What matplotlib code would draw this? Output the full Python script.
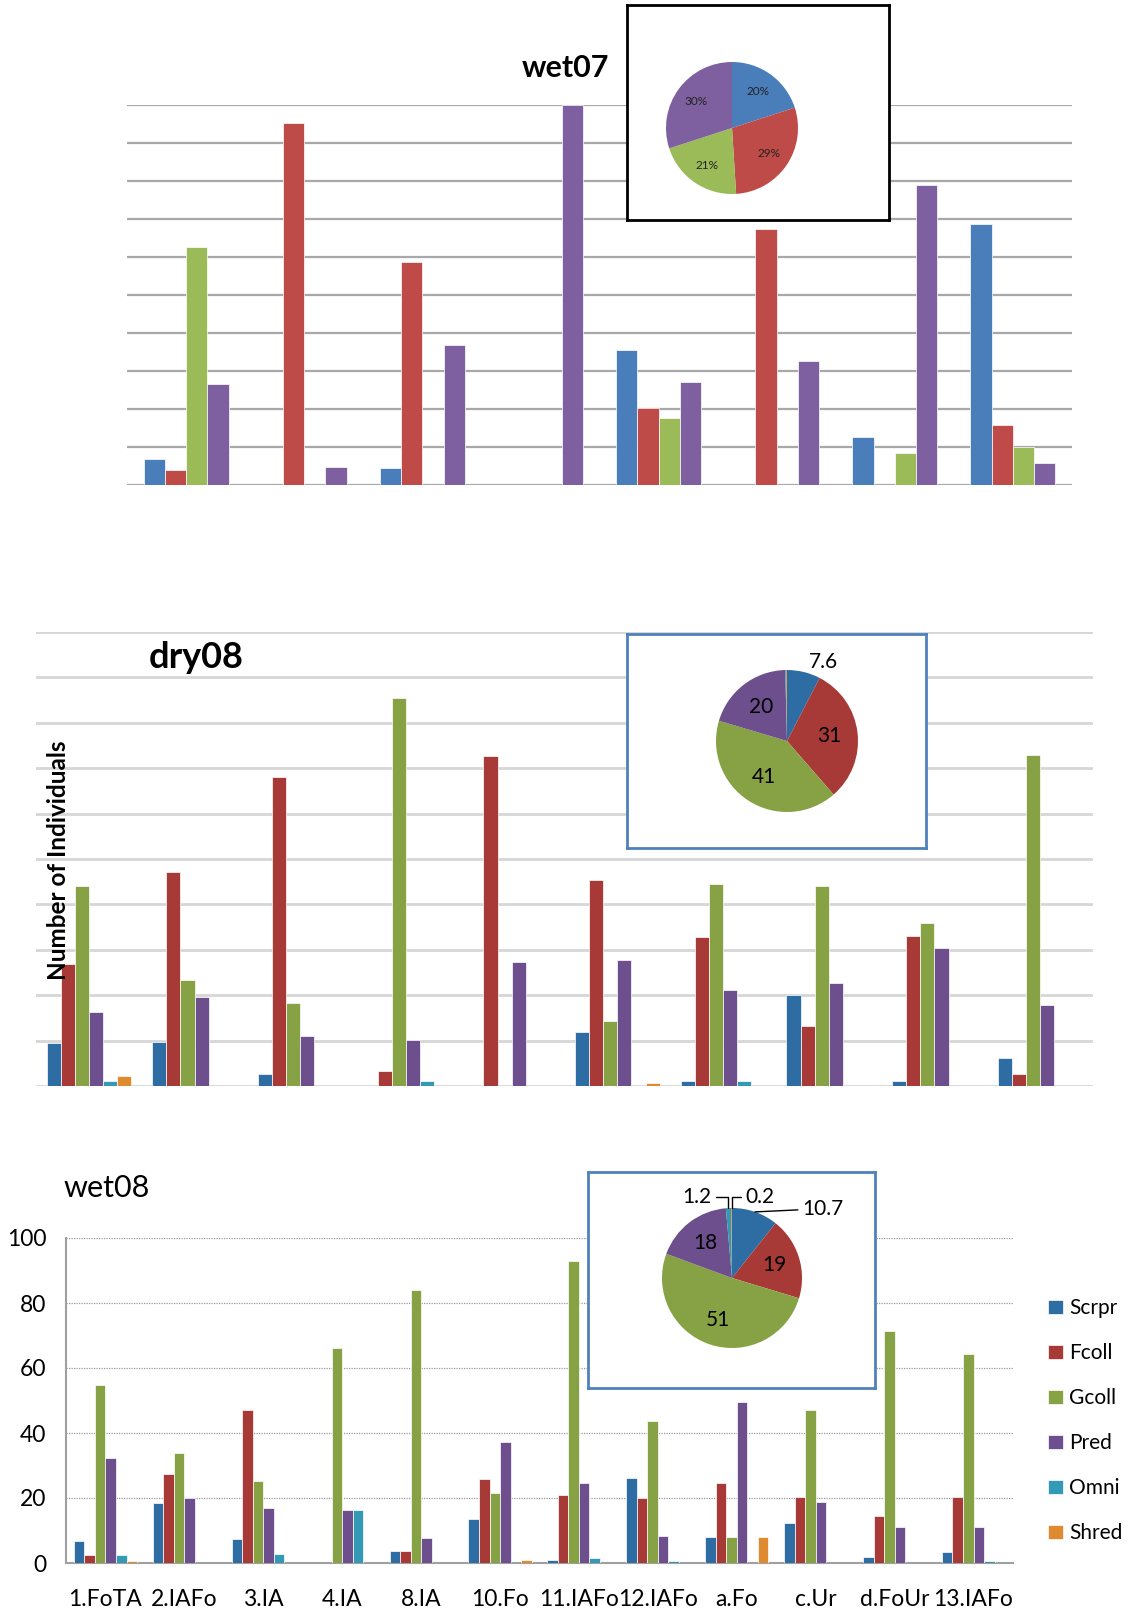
import numpy as np
import matplotlib.pyplot as plt

plt.rcParams["font.family"] = ["Lato", "DejaVu Sans"]

W, H = 1129, 1614

guilds = ["Scrpr", "Fcoll", "Gcoll", "Pred", "Omni", "Shred"]

# wet07 - no y scale printed, values are in gridline units
wet07_scrpr = [0.68, 0, 0.44, 0, 3.54, 0, 1.26, 6.86]
wet07_fcoll = [0.40, 9.53, 5.88, 0, 2.02, 6.73, 0, 1.58]
wet07_gcoll = [6.27, 0, 0, 0, 1.76, 0, 0.84, 1.01]
wet07_pred = [2.65, 0.47, 3.69, 10.0, 2.72, 3.27, 7.90, 0.59]
wet07_pie = [20, 29, 21, 30]

# dry08 - also in gridline units
dry08_scrpr = [0.94, 0.97, 0.26, 0, 0, 1.19, 0.10, 2.01, 0.10, 0.62]
dry08_fcoll = [2.68, 4.72, 6.80, 0.32, 7.26, 4.54, 3.28, 1.33, 3.30, 0.26]
dry08_gcoll = [4.41, 2.34, 1.83, 8.55, 0, 1.44, 4.46, 4.41, 3.59, 7.30]
dry08_pred = [1.63, 1.95, 1.11, 1.02, 2.74, 2.78, 2.12, 2.26, 3.03, 1.79]
dry08_omni = [0.12, 0, 0, 0.12, 0, 0, 0.10, 0, 0, 0]
dry08_shred = [0.23, 0, 0, 0, 0, 0.07, 0, 0, 0, 0]
dry08_pie = [7.6, 31, 41, 20, 0.2, 0.2]

# wet08
sites = ["1.FoTA", "2.IAFo", "3.IA", "4.IA", "8.IA", "10.Fo", "11.IAFo",
         "12.IAFo", "a.Fo", "c.Ur", "d.FoUr", "13.IAFo"]
wet08_scrpr = [6.7, 18.4, 7.3, 0, 3.7, 13.5, 0.9, 26.3, 8.0, 12.4, 2.0, 3.3]
wet08_fcoll = [2.4, 27.4, 47.2, 0, 3.7, 25.8, 20.8, 19.9, 24.6, 20.3, 14.4, 20.3]
wet08_gcoll = [54.8, 33.7, 25.1, 66.3, 84.0, 21.5, 92.8, 43.7, 8.0, 47.2, 71.4, 64.2]
wet08_pred = [32.2, 19.9, 16.8, 16.3, 7.7, 37.3, 24.6, 8.4, 49.6, 18.7, 11.2, 11.2]
wet08_omni = [2.4, 0, 2.9, 16.3, 0, 0, 1.6, 0.5, 0, 0, 0, 0.5]
wet08_shred = [0.6, 0, 0, 0, 0, 0.9, 0, 0, 8.0, 0, 0, 0]
wet08_pie = [10.7, 19, 51, 18, 1.2, 0.2]

light_colors = ["#4A7EBB", "#BE4B48", "#9BBB59", "#7E5F9F"]
dark_colors = ["#2E6CA4", "#A73A36", "#87A244", "#6C4F8C", "#3399B4", "#E08A30"]


def px_axes(fig, x0, y0, x1, y1):
    # axes from pixel box (top-left origin)
    return fig.add_axes([x0 / W, 1 - y1 / H, (x1 - x0) / W, (y1 - y0) / H])


def grouped_bars(ax, series, colors, width):
    n = len(series)
    x = np.arange(len(series[0]))
    for i, (vals, c) in enumerate(zip(series, colors)):
        ax.bar(x + (i - (n - 1) / 2) * width, vals, width, color=c,
               edgecolor="white", linewidth=0.5, zorder=3, label=guilds[i])
    ax.set_xlim(-0.5, len(x) - 0.5)
    return x


def pie_inset(fig, box, center, r, values, colors, edge):
    bax = px_axes(fig, *box)
    bax.set_xticks([])
    bax.set_yticks([])
    for s in bax.spines.values():
        s.set_color(edge)
        s.set_linewidth(2)
    cx, cy = center
    pax = px_axes(fig, cx - r, cy - r, cx + r, cy + r)
    pax.pie(values, colors=colors, startangle=90, counterclock=False,
            wedgeprops=dict(linewidth=0))
    pax.set_xlim(-1, 1)
    pax.set_ylim(-1, 1)
    pax.axis("off")
    return pax


def mid_angles(values):
    v = np.array(values, dtype=float)
    cum = np.cumsum(v) - v / 2
    return np.deg2rad(90 - 360 * cum / v.sum())


def main():
    fig = plt.figure(figsize=(W / 100, H / 100), dpi=100)

    # ---- wet07 ----
    ax1 = px_axes(fig, 127, 105, 1072, 485)
    grouped_bars(ax1, [wet07_scrpr, wet07_fcoll, wet07_gcoll, wet07_pred],
                 light_colors, 0.18)
    ax1.set_ylim(0, 10)
    ax1.set_yticks(range(11))
    ax1.yaxis.grid(True, color="#A8A8A8", linewidth=1.6)
    ax1.set_axisbelow(True)
    ax1.tick_params(left=False, labelleft=False, bottom=False, labelbottom=False)
    for s in ax1.spines.values():
        s.set_visible(False)
    fig.text(565 / W, 1 - 68 / H, "wet07", ha="center", va="center",
             fontsize=22, fontweight="bold")

    p1 = pie_inset(fig, (627, 5, 889, 220), (732, 128), 66, wet07_pie,
                   light_colors, "black")
    for a, v in zip(mid_angles(wet07_pie), wet07_pie):
        p1.text(0.68 * np.cos(a), 0.68 * np.sin(a), f"{v}%", ha="center",
                va="center", fontsize=8.5, color="#222222")

    # ---- dry08 ----
    ax2 = px_axes(fig, 36, 632, 1093, 1086)
    grouped_bars(ax2, [dry08_scrpr, dry08_fcoll, dry08_gcoll, dry08_pred,
                       dry08_omni, dry08_shred], dark_colors, 0.8 / 6)
    ax2.set_ylim(0, 10)
    ax2.set_yticks(range(11))
    ax2.yaxis.grid(True, color="#D6D6D6", linewidth=2)
    ax2.set_axisbelow(True)
    ax2.tick_params(left=False, labelleft=False, bottom=False, labelbottom=False)
    for s in ax2.spines.values():
        s.set_visible(False)
    fig.text(196 / W, 1 - 657 / H, "dry08", ha="center", va="center",
             fontsize=26, fontweight="bold")
    fig.text(59 / W, 1 - 860 / H, "Number of Individuals", rotation=90,
             ha="center", va="center", fontsize=17.5, fontweight="bold")

    p2 = pie_inset(fig, (627, 634, 926, 848), (787, 741), 71, dry08_pie,
                   dark_colors, "#4F81BD")
    ang2 = mid_angles(dry08_pie)
    for i in range(1, 4):
        p2.text(0.6 * np.cos(ang2[i]), 0.6 * np.sin(ang2[i]),
                f"{dry08_pie[i]:g}", ha="center", va="center", fontsize=15)
    p2.text(0.52, 1.11, f"{dry08_pie[0]:g}", ha="center", va="center",
            fontsize=15, clip_on=False)

    # ---- wet08 ----
    ax3 = px_axes(fig, 66, 1238, 1013, 1563)
    x = grouped_bars(ax3, [wet08_scrpr, wet08_fcoll, wet08_gcoll, wet08_pred,
                           wet08_omni, wet08_shred], dark_colors, 0.8 / 6)
    ax3.set_ylim(0, 100)
    ax3.set_yticks(range(0, 101, 20))
    ax3.yaxis.grid(True, color="#9A9A9A", linewidth=0.9, linestyle=(0, (1, 1)))
    ax3.set_axisbelow(True)
    ax3.set_xticks(x)
    ax3.set_xticklabels(sites)
    ax3.tick_params(axis="both", length=0, labelsize=16.5)
    ax3.tick_params(axis="x", pad=19)
    ax3.tick_params(axis="y", pad=14)
    for side in ["top", "right"]:
        ax3.spines[side].set_visible(False)
    for side in ["left", "bottom"]:
        ax3.spines[side].set_color("#A0A0A0")
        ax3.spines[side].set_linewidth(1.5)
    fig.text(107 / W, 1 - 1188 / H, "wet08", ha="center", va="center",
             fontsize=22)

    handles, labels = ax3.get_legend_handles_labels()
    fig.legend(handles, labels, loc="upper left",
               bbox_to_anchor=(1040 / W, 1 - 1290 / H), frameon=False,
               fontsize=15, handlelength=0.7, handleheight=0.7,
               handletextpad=0.3, labelspacing=1.2, borderaxespad=0)

    p3 = pie_inset(fig, (588, 1172, 875, 1388), (732, 1278), 70, wet08_pie,
                   dark_colors, "#4F81BD")
    ang3 = mid_angles(wet08_pie)
    for i in range(1, 4):
        p3.text(0.63 * np.cos(ang3[i]), 0.63 * np.sin(ang3[i]),
                f"{wet08_pie[i]:g}", ha="center", va="center", fontsize=15)
    line = dict(arrowstyle="-", color="black", lw=1, shrinkA=1, shrinkB=0)
    p3.annotate(f"{wet08_pie[0]:g}", xy=(np.cos(ang3[0]), np.sin(ang3[0])),
                xytext=(1.0, 0.99), ha="left", va="center", fontsize=15,
                arrowprops=line, annotation_clip=False)
    p3.annotate(f"{wet08_pie[4]:g}", xy=(np.cos(ang3[4]), np.sin(ang3[4])),
                xytext=(-0.5, 1.16), ha="center", va="center", fontsize=15,
                arrowprops=dict(line, connectionstyle="angle,angleA=0,angleB=90,rad=0"),
                annotation_clip=False)
    p3.annotate(f"{wet08_pie[5]:g}", xy=(np.cos(ang3[5]), np.sin(ang3[5])),
                xytext=(0.4, 1.16), ha="center", va="center", fontsize=15,
                arrowprops=dict(line, connectionstyle="angle,angleA=0,angleB=90,rad=0"),
                annotation_clip=False)

    fig.savefig("out.png", dpi=100)


if __name__ == "__main__":
    main()
